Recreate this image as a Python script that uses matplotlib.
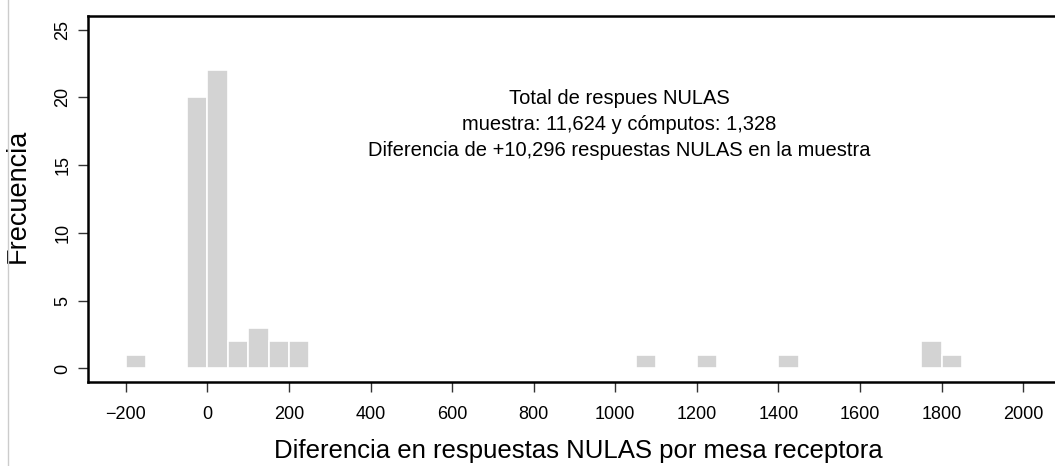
import matplotlib
matplotlib.use("Agg")
import matplotlib.pyplot as plt
from matplotlib.lines import Line2D

plt.rcParams['font.family'] = ['Liberation Sans', 'DejaVu Sans']

# histogram bins (left edge, width 50) and counts
bin_left = [-200, -50, 0, 50, 100, 150, 200, 1050, 1200, 1400, 1750, 1800]
counts = [1, 20, 22, 2, 3, 2, 2, 1, 1, 1, 2, 1]
bin_width = 50

x_ticks = list(range(-200, 2001, 200))
y_ticks = [0, 5, 10, 15, 20, 25]

note = ("Total de respues NULAS\n"
        "muestra: 11,624 y cómputos: 1,328\n"
        "Diferencia de +10,296 respuestas NULAS en la muestra")

fig = plt.figure(figsize=(10.55, 4.66), dpi=100)
ax = fig.add_axes([88 / 1055, 1 - 382 / 466, 1024 / 1055, 366 / 466])

ax.bar(bin_left, counts, width=bin_width, align='edge',
       color='#d3d3d3', edgecolor='white', linewidth=1.2)

ax.set_xlim(-293, 2218)
ax.set_ylim(-1, 26)
ax.set_xticks(x_ticks)
ax.set_yticks(y_ticks)
ax.set_xticklabels([f"{t}".replace('-', '\u2212') for t in x_ticks], fontsize=13)
ax.set_yticklabels([str(t) for t in y_ticks], fontsize=13, rotation=90, va='center')
ax.tick_params(length=7, width=1, color='#333333', pad=5)
ax.tick_params(axis='x', pad=10)

for side in ['left', 'bottom', 'top']:
    ax.spines[side].set_linewidth(1.8)
ax.spines['right'].set_visible(False)

ax.set_xlabel("Diferencia en respuestas NULAS por mesa receptora", fontsize=18.5, labelpad=12)
ax.xaxis.label.set_x(0.4785)
ax.set_ylabel("Frecuencia", fontsize=19.5, va='center')
ax.yaxis.set_label_coords(-0.0684, 0.51)

ax.text(1010, 18, note, ha='center', va='center', fontsize=14.5, linespacing=1.45)

# thin grey border line at the left of the image
fig.add_artist(Line2D([8 / 1055, 8 / 1055], [0, 1], color='#cccccc', linewidth=1,
                      transform=fig.transFigure))

fig.savefig("out.png", dpi=100)
